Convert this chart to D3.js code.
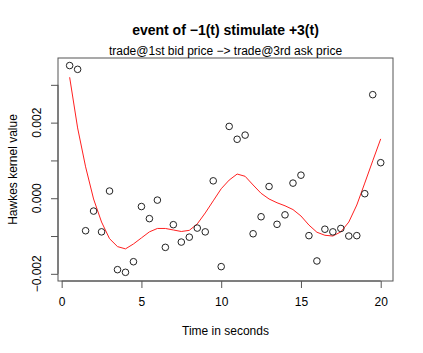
<!DOCTYPE html>
<html>
<head>
<meta charset="utf-8">
<script src="https://cdn.jsdelivr.net/npm/d3@7"></script>
<style>
  body { margin: 0; background: #fff; }
  text { font-family: "Liberation Sans", Arial, Helvetica, sans-serif; fill: #000; }
</style>
</head>
<body>
<div id="chart"></div>
<script>
// kernel estimate, sampled every 0.5 s
var times = [0.5,1,1.5,2,2.5,3,3.5,4,4.5,5,5.5,6,6.5,7,7.5,8,8.5,9,9.5,10,
             10.5,11,11.5,12,12.5,13,13.5,14,14.5,15,15.5,16,16.5,17,17.5,18,18.5,19,19.5,20]
var rawValues = [0.00351,0.00341,-0.00086,-0.00034,-0.00089,0.00019,-0.00189,-0.00196,-0.00168,-0.00022,
                 -0.00054,-0.00005,-0.00130,-0.00070,-0.00116,-0.00103,-0.00079,-0.00089,0.00046,-0.00181,
                 0.00190,0.00156,0.00167,-0.00094,-0.00049,0.00031,-0.00069,-0.00044,0.00040,0.00061,
                 -0.00099,-0.00166,-0.00082,-0.00089,-0.00080,-0.00100,-0.00099,0.00012,0.00274,0.00094]
var smoothValues = [0.00320,0.00186,0.00083,-0.00002,-0.00063,-0.00107,-0.00128,-0.00134,-0.00121,-0.00105,
                    -0.00089,-0.00080,-0.00080,-0.00084,-0.00088,-0.00085,-0.00068,-0.00039,-0.00007,0.00025,
                    0.00048,0.00064,0.00058,0.00035,0.00013,-0.00002,-0.00012,-0.00020,-0.00030,-0.00047,
                    -0.00071,-0.00090,-0.00098,-0.00100,-0.00089,-0.00063,-0.00018,0.00040,0.00099,0.00157]
var xTicks = [0,5,10,15,20]
var yTicks = [-0.002,-0.001,0,0.001,0.002,0.003]
var yLabels = {"-0.002":"\u22120.002","0":"0.000","0.002":"0.002"}

var W = 423, H = 353
var plotL = 58, plotR = 393, plotT = 58, plotB = 281

var svg = d3.select("#chart").append("svg")
    .attr("width", W)
    .attr("height", H)

var x = d3.scaleLinear().domain([-0.23, 20.77]).range([plotL, plotR])
var y = d3.scaleLinear().domain([-0.00219, 0.00371]).range([plotB, plotT])

// box
svg.append("rect")
    .attr("x", plotL).attr("y", plotT)
    .attr("width", plotR-plotL).attr("height", plotB-plotT)
    .attr("fill", "none").attr("stroke", "#555").attr("stroke-width", 1)

// x axis
var xAxis = svg.append("g").attr("transform", "translate(0,"+plotB+")")
    .call(d3.axisBottom(x).tickValues(xTicks).tickSize(7).tickPadding(9).tickFormat(d3.format("d")))
xAxis.select(".domain").attr("d", "M"+x(0)+",0H"+x(20)).attr("stroke", "#555")
xAxis.selectAll(".tick line").attr("stroke", "#555")
xAxis.selectAll("text").attr("font-size", 12).attr("font-family", "Liberation Sans, Arial, sans-serif")

// y axis
var yAxis = svg.append("g").attr("transform", "translate("+plotL+",0)")
    .call(d3.axisLeft(y).tickValues(yTicks).tickSize(7).tickFormat(function(d){ return "" }))
yAxis.select(".domain").attr("d", "M0,"+y(-0.002)+"V"+y(0.003)).attr("stroke", "#555")
yAxis.selectAll(".tick line").attr("stroke", "#555")

yTicks.forEach(function(d){
    var key = String(Math.round(d*1000)/1000)
    if (yLabels[key] === undefined) return
    svg.append("text")
        .attr("transform", "translate(41,"+y(d)+") rotate(-90)")
        .attr("text-anchor", "middle")
        .attr("font-size", 12)
        .text(yLabels[key])
})

// smoothed curve
var line = d3.line()
    .x(function(d, i){ return x(times[i]) })
    .y(function(d){ return y(d) })
svg.append("path")
    .datum(smoothValues)
    .attr("d", line)
    .attr("fill", "none")
    .attr("stroke", "#ff2020")
    .attr("stroke-width", 1)

// raw points
svg.selectAll(".pt")
    .data(rawValues)
    .enter().append("circle")
    .attr("class", "pt")
    .attr("cx", function(d, i){ return x(times[i]) })
    .attr("cy", function(d){ return y(d) })
    .attr("r", 3.3)
    .attr("fill", "none")
    .attr("stroke", "#222")
    .attr("stroke-width", 1)

// titles
svg.append("text")
    .attr("x", (plotL+plotR)/2).attr("y", 35)
    .attr("text-anchor", "middle")
    .attr("font-size", 14).attr("font-weight", "bold")
    .text("event of \u22121(t) stimulate +3(t)")
svg.append("text")
    .attr("x", (plotL+plotR)/2).attr("y", 55)
    .attr("text-anchor", "middle")
    .attr("font-size", 12)
    .text("trade@1st bid price \u2212> trade@3rd ask price")
svg.append("text")
    .attr("x", (plotL+plotR)/2).attr("y", 335)
    .attr("text-anchor", "middle")
    .attr("font-size", 12)
    .text("Time in seconds")
svg.append("text")
    .attr("transform", "translate(17,"+((plotT+plotB)/2)+") rotate(-90)")
    .attr("text-anchor", "middle")
    .attr("font-size", 12)
    .text("Hawkes kernel value")
</script>
</body>
</html>
